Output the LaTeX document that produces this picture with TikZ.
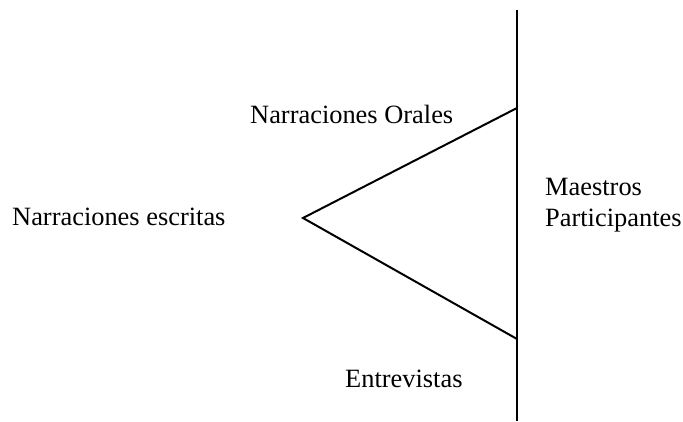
\documentclass[tikz,border=0pt]{standalone}
\usepackage{fontspec}
\setmainfont{Liberation Serif}
\begin{document}
\begin{tikzpicture}[x=1pt,y=-1pt,
  lbl/.style={inner sep=0pt,anchor=base west,font=\fontsize{26.4}{31}\selectfont},
  ln/.style={line width=2pt}]
\useasboundingbox (0,0) rectangle (683,422);
\coordinate (vtop) at (517,10);
\coordinate (vbot) at (517,421);
\coordinate (apex) at (303,218);
\coordinate (ta) at (517,108);
\coordinate (tb) at (517,339);
\draw[ln] (vtop) -- (vbot);
\draw[ln] (ta) -- (apex) -- (tb);
\node[lbl] (orales) at (250,124) {Narraciones Orales};
\node[lbl] (escritas) at (12,226) {Narraciones escritas};
\node[lbl] (maestros) at (545,196) {Maestros};
\node[lbl] (part) at (545,227) {Participantes};
\node[lbl] (entre) at (345,387) {Entrevistas};
\end{tikzpicture}
\end{document}
